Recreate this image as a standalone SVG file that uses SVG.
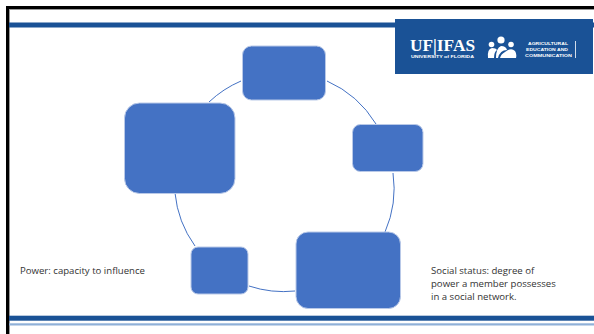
<svg xmlns="http://www.w3.org/2000/svg" width="594" height="334" viewBox="0 0 594 334">
<style>
.n{fill:#4472c4;stroke:#b9c9e8;stroke-width:1}
.c{fill:none;stroke:#4472c4;stroke-width:1}
.t{font-family:"Open Sans","Noto Sans",sans-serif;font-size:9.6px;fill:#333}
.l{fill:#fff;font-family:"Liberation Sans",sans-serif;font-weight:bold}
</style>
<rect width="594" height="334" fill="#fff"/>
<g id="frame">
<rect x="9" y="9" width="585" height="1" fill="#999"/>
<rect x="9" y="9" width="1" height="325" fill="#999"/>
<rect x="6" y="6" width="588" height="3" fill="#000"/>
<rect x="6" y="6" width="3" height="328" fill="#000"/>
<rect x="9" y="22.500" width="585" height="5" fill="#1a5296"/>
<rect x="9" y="315.700" width="585" height="5" fill="#1a5296"/>
<rect x="9" y="323.300" width="585" height="2.200" fill="#8fb0d8"/>
</g>
<g id="connectors">
<path class="c" d="M241 81A109 109 0 0 0 209 102"/>
<path class="c" d="M327 81A109 109 0 0 1 376 124"/>
<path class="c" d="M393 173A109 109 0 0 1 385 232"/>
<path class="c" d="M295 291A109 109 0 0 1 249 286"/>
<path class="c" d="M195 246A109 109 0 0 1 175 193"/>
</g>
<g id="node-top"><rect class="n" x="242.500" y="46" width="83" height="54" rx="9"/></g>
<g id="node-right"><rect class="n" x="352.500" y="124.500" width="70.500" height="47" rx="8"/></g>
<g id="node-bottom-right"><rect class="n" x="296" y="232" width="104.500" height="76.500" rx="12"/></g>
<g id="node-bottom-left"><rect class="n" x="191" y="247" width="57" height="47" rx="7"/></g>
<g id="node-left"><rect class="n" x="124.500" y="103" width="110.500" height="90.500" rx="15"/></g>
<g id="label-power"><text class="t" x="20" y="274">Power: capacity to influence</text></g>
<g id="label-status"><text class="t" x="431" y="274">Social status: degree of</text><text class="t" x="431" y="287">power a member possesses</text><text class="t" x="431" y="300">in a social network.</text></g>
<g id="logo">
<rect x="395" y="19" width="198" height="55" fill="#1a5296"/>
<text x="410" y="51" font-family="Liberation Serif,serif" font-weight="bold" font-size="16.500" fill="#fff" textLength="65" lengthAdjust="spacingAndGlyphs">UF|IFAS</text>
<text class="l" x="411" y="58" font-size="4" textLength="63" lengthAdjust="spacingAndGlyphs">UNIVERSITY of FLORIDA</text>
<g fill="#fff">
<circle cx="501" cy="40" r="3.600"/><circle cx="491.500" cy="44.500" r="2.800"/><circle cx="511" cy="44.500" r="2.800"/>
<path d="M488 58Q487 49 492 48Q496 48 497 50Q494 52 494 58Z"/>
<path d="M496 58Q496 48 501 46Q506 46 507 50Q500 50 498 58Z"/>
<path d="M505 52Q511 47 515 51Q517 54 516 58H500Q501 54 505 52Z"/>
</g>
<text class="l" x="528" y="45" font-size="3.900" textLength="40" lengthAdjust="spacingAndGlyphs">AGRICULTURAL</text>
<text class="l" x="526" y="50.500" font-size="3.900" textLength="42" lengthAdjust="spacingAndGlyphs">EDUCATION AND</text>
<text class="l" x="525" y="56.500" font-size="3.900" textLength="47" lengthAdjust="spacingAndGlyphs">COMMUNICATION</text>
<rect x="575" y="41" width="0.800" height="17" fill="#fff"/>
</g>
</svg>
